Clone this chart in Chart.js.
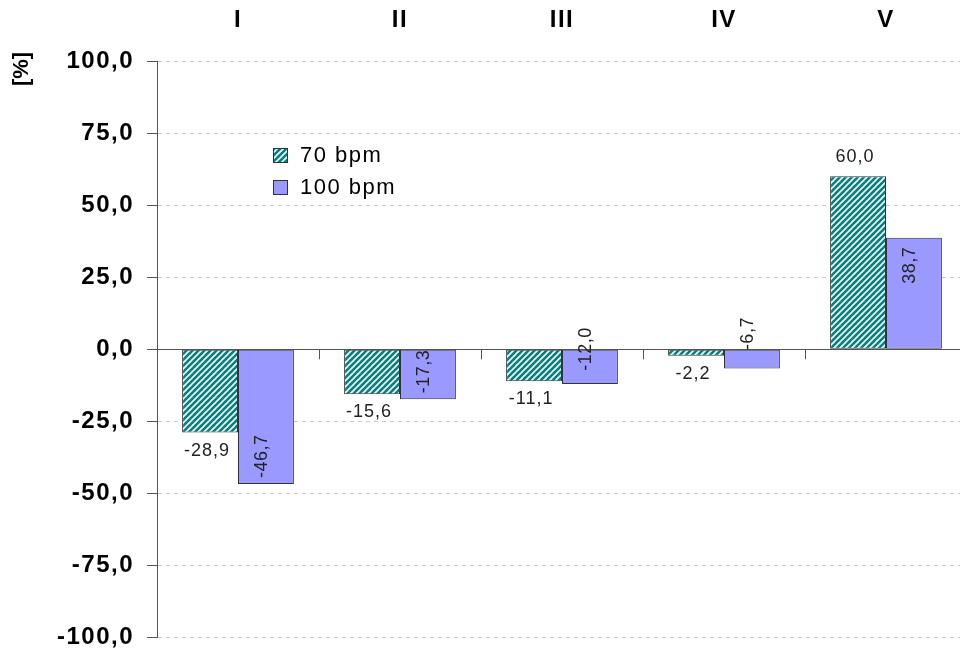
<!DOCTYPE html>
<html>
<head>
<meta charset="utf-8">
<script src="https://cdn.jsdelivr.net/npm/chart.js@4"></script>
<style>
  html, body { margin: 0; padding: 0; background: #fff; overflow: hidden; }
  #wrap { width: 967px; height: 665px; }
</style>
</head>
<body>
<div id="wrap"><canvas id="myChart"></canvas></div>
<script>
// chart data
const categories = ["I", "II", "III", "IV", "V"];
const bpm70 = [-28.9, -15.6, -11.1, -2.2, 60.0];
const bpm100 = [-46.7, -17.3, -12.0, -6.7, 38.7];
const seriesNames = ["70 bpm", "100 bpm"];
const yTicks = [100, 75, 50, 25, 0, -25, -50, -75, -100];
const yTitle = "[%]";

const FONT = "'Liberation Sans', Arial, sans-serif";
const fmt = (v) => v.toFixed(1).replace(".", ",");

// teal hatch pattern for the 70 bpm bars
function makeHatch() {
  const c = document.createElement("canvas");
  c.width = 6; c.height = 6;
  const g = c.getContext("2d");
  g.fillStyle = "#008080";
  g.fillRect(0, 0, 6, 6);
  g.strokeStyle = "#ffffff";
  g.lineWidth = 1.6;
  [[0, 6, 6, 0], [-3, 3, 3, -3], [3, 9, 9, 3]].forEach(([a, b, c2, d]) => {
    g.beginPath(); g.moveTo(a, b); g.lineTo(c2, d); g.stroke();
  });
  return g.createPattern(c, "repeat");
}
const hatch = makeHatch();
const purple = "#9999ff";

// wide letter spacing for axis text (canvas state is reset on resize)
const spacing = {
  id: "spacing",
  beforeUpdate(chart) { chart.ctx.letterSpacing = "1.5px"; },
  beforeDraw(chart) { chart.ctx.letterSpacing = "1.5px"; },
};

// value labels, legend, zero line, category ticks, axis title
const extras = {
  id: "extras",
  afterDatasetsDraw(chart) {
    const ctx = chart.ctx;
    const x = chart.scales.x, y = chart.scales.y;
    const area = chart.chartArea;
    const y0 = y.getPixelForValue(0);

    // zero line + ticks between categories
    ctx.save();
    ctx.setLineDash([]);
    ctx.strokeStyle = "#555";
    ctx.lineWidth = 1;
    ctx.beginPath();
    ctx.moveTo(area.left, Math.round(y0) + 0.5);
    ctx.lineTo(area.right, Math.round(y0) + 0.5);
    for (let i = 1; i < categories.length; i++) {
      const bx = Math.round((x.getPixelForTick(i - 1) + x.getPixelForTick(i)) / 2) + 0.5;
      ctx.moveTo(bx, y0);
      ctx.lineTo(bx, y0 + 10);
    }
    ctx.stroke();
    ctx.restore();

    ctx.save();
    ctx.font = "18px " + FONT;
    ctx.letterSpacing = "1px";
    ctx.fillStyle = "#222";
    ctx.textBaseline = "middle";

    // 70 bpm: horizontal labels outside bar end
    chart.getDatasetMeta(0).data.forEach((bar, i) => {
      const v = bpm70[i];
      ctx.textAlign = "center";
      ctx.fillText(fmt(v), bar.x - 3, v < 0 ? bar.y + 18 : bar.y - 19);
    });

    // 100 bpm: rotated labels at bar end
    ctx.letterSpacing = "0.5px";
    chart.getDatasetMeta(1).data.forEach((bar, i) => {
      const v = bpm100[i];
      const txt = fmt(v);
      const w = ctx.measureText(txt).width;
      const len = Math.abs(bar.y - y0);
      ctx.save();
      let ay;
      if (v < 0) {
        if (w <= len) {
          ay = bar.y - 6;
          ctx.textAlign = "left";
        } else {
          ay = bar.y - 35;
          ctx.textAlign = "center";
        }
      } else {
        ay = bar.y + 9;
        ctx.textAlign = "right";
      }
      ctx.translate(bar.x - 4, ay);
      ctx.rotate(-Math.PI / 2);
      ctx.fillText(txt, 0, 0);
      ctx.restore();
    });
    ctx.restore();

    // y axis title near the top
    ctx.save();
    ctx.font = "bold 22px " + FONT;
    ctx.letterSpacing = "0px";
    ctx.fillStyle = "#000";
    ctx.textAlign = "center";
    ctx.textBaseline = "middle";
    ctx.translate(22, area.top + 8);
    ctx.rotate(-Math.PI / 2);
    ctx.fillText(yTitle, 0, 0);
    ctx.restore();

    // legend inside the plot
    ctx.save();
    const fills = [hatch, purple];
    const lx = area.left + 116, ly = area.top + 87;
    ctx.font = "22px " + FONT;
    ctx.letterSpacing = "1.5px";
    ctx.textBaseline = "middle";
    ctx.textAlign = "left";
    seriesNames.forEach((name, i) => {
      const by = ly + i * 32;
      ctx.fillStyle = fills[i];
      ctx.fillRect(lx, by, 15, 15);
      ctx.strokeStyle = "#333";
      ctx.lineWidth = 1;
      ctx.strokeRect(lx + 0.5, by + 0.5, 14, 14);
      ctx.fillStyle = "#000";
      ctx.fillText(name, lx + 27, by + 8);
    });
    ctx.restore();
  }
};

const ctx = document.getElementById("myChart").getContext("2d");
const myChart = new Chart(ctx, {
  type: "bar",
  data: {
    labels: categories,
    datasets: [
      {
        label: seriesNames[0],
        data: bpm70,
        backgroundColor: hatch,
        borderColor: "#333",
        borderWidth: 1,
        borderSkipped: false,
      },
      {
        label: seriesNames[1],
        data: bpm100,
        backgroundColor: purple,
        borderColor: "#333",
        borderWidth: 1,
        borderSkipped: false,
      },
    ],
  },
  plugins: [spacing, extras],
  options: {
    responsive: true,
    maintainAspectRatio: false,
    animation: false,
    categoryPercentage: 0.69,
    barPercentage: 1.0,
    layout: { padding: { top: 0, right: 0, bottom: 0, left: 0 } },
    plugins: {
      legend: { display: false },
      tooltip: { enabled: false },
    },
    scales: {
      x: {
        position: "top",
        grid: { display: false, drawTicks: false },
        border: { display: false },
        ticks: {
          color: "#000",
          padding: 26,
          font: { family: FONT, size: 24, weight: "bold" },
        },
        afterFit(scale) { scale.height = 61; },
      },
      y: {
        min: -100,
        max: 100,
        afterBuildTicks(scale) {
          scale.ticks = yTicks.map((v) => ({ value: v }));
        },
        grid: {
          color: (c) => (c.tick && c.tick.value === 0 ? "#555" : "#c8c8c8"),
          tickColor: "#555",
          tickLength: 10,
        },
        border: {
          display: true,
          color: "#555",
          dash: (c) => (c.tick && c.tick.value === 0 ? [] : [4, 4]),
        },
        ticks: {
          color: "#000",
          padding: 13,
          font: { family: FONT, size: 24, weight: "bold" },
          callback: (v) => fmt(v),
        },
        afterFit(scale) { scale.width = 157; },
      },
    },
  },
});
</script>
</body>
</html>
